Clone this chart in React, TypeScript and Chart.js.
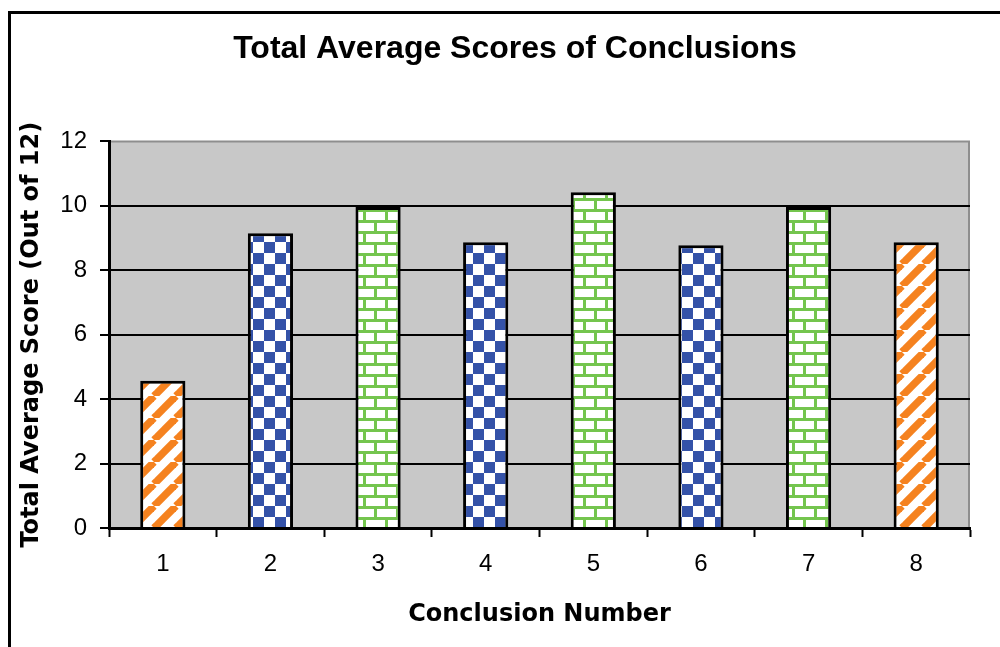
import { useEffect, useRef } from "react";
import { Chart, registerables } from "chart.js";

Chart.register(...registerables);

const categories = ["1", "2", "3", "4", "5", "6", "7", "8"];
const scores = [4.57, 9.15, 9.96, 8.87, 10.42, 8.78, 9.96, 8.87];
const patternKinds = ["stripe", "check", "brick", "check", "brick", "check", "brick", "stripe"];
const yMin = 0;
const yMax = 12;
const yStep = 2;

const chartTitle = "Total Average Scores of Conclusions";
const xTitle = "Conclusion Number";
const yTitle = "Total Average Score (Out of 12)";

const SANS = "'Liberation Sans', Arial, sans-serif";
const WIDE = "'DejaVu Sans', Verdana, sans-serif";

function makePattern(kind: string): CanvasPattern | string {
  const s = 22;
  const c = document.createElement("canvas");
  c.width = s;
  c.height = s;
  const g = c.getContext("2d");
  if (!g) return "#fff";
  g.fillStyle = "#ffffff";
  g.fillRect(0, 0, s, s);
  if (kind === "stripe") {
    g.strokeStyle = "#F5821F";
    g.lineWidth = 7.5;
    for (const o of [-s, 0, s]) {
      g.beginPath();
      g.moveTo(o, s);
      g.lineTo(o + s, 0);
      g.stroke();
    }
  } else if (kind === "check") {
    g.fillStyle = "#3452A8";
    g.fillRect(0, 0, 11, 11);
    g.fillRect(11, 11, 11, 11);
  } else {
    g.fillStyle = "#74C54E";
    g.fillRect(0, 0, s, 3);
    g.fillRect(0, 11, s, 3);
    g.fillRect(0, 0, 3, 11);
    g.fillRect(11, 11, 3, 11);
  }
  const p = g.createPattern(c, "repeat");
  return p || "#fff";
}

const framePlugin = {
  id: "frame",
  beforeDraw(chart: any) {
    const { ctx, chartArea: a } = chart;
    ctx.save();
    ctx.fillStyle = "#ffffff";
    ctx.fillRect(0, 0, chart.width, chart.height);
    ctx.strokeStyle = "#000000";
    ctx.lineWidth = 3;
    ctx.strokeRect(9.5, 12.5, 1200, 1200);
    ctx.fillStyle = "#C8C8C8";
    ctx.fillRect(a.left, a.top, a.right - a.left, a.bottom - a.top);
    ctx.strokeStyle = "#8E8E8E";
    ctx.lineWidth = 2;
    ctx.beginPath();
    ctx.moveTo(a.left, a.top);
    ctx.lineTo(a.right - 1, a.top);
    ctx.lineTo(a.right - 1, a.bottom);
    ctx.stroke();
    ctx.restore();
  },
};

export default function App() {
  const ref = useRef<HTMLCanvasElement | null>(null);

  useEffect(() => {
    document.body.style.margin = "0";
    document.body.style.overflow = "hidden";
    const canvas = ref.current;
    if (!canvas) return;
    const chart = new Chart(canvas, {
      type: "bar",
      data: {
        labels: categories,
        datasets: [
          {
            data: scores,
            backgroundColor: patternKinds.map((k) => makePattern(k)) as any,
            borderColor: "#000000",
            borderWidth: 3,
            categoryPercentage: 1,
            barPercentage: 0.42,
          },
        ],
      },
      options: {
        animation: false,
        responsive: false,
        devicePixelRatio: 1,
        layout: { padding: { left: 60, right: 30, top: 0, bottom: 0 } },
        plugins: {
          legend: { display: false },
          tooltip: { enabled: false },
          title: {
            display: true,
            text: chartTitle,
            color: "#000000",
            font: { family: SANS, size: 32, weight: "bold" },
            padding: { top: 30, bottom: 73 },
          },
        },
        scales: {
          x: {
            grid: {
              offset: true,
              drawOnChartArea: false,
              drawTicks: true,
              tickLength: 9,
              tickColor: "#000000",
              tickWidth: 2,
            },
            border: { color: "#000000", width: 3 },
            ticks: { color: "#000000", font: { family: SANS, size: 24 }, padding: 13 },
            title: {
              display: true,
              text: xTitle,
              color: "#000000",
              font: { family: WIDE, size: 24, weight: "bold" },
              padding: { top: 0, bottom: 18 },
            },
            afterFit: (s: any) => {
              s.height = 119;
            },
          },
          y: {
            min: yMin,
            max: yMax,
            ticks: {
              stepSize: yStep,
              color: "#000000",
              font: { family: SANS, size: 24 },
              padding: 13,
            },
            grid: {
              color: (c: any) => (c.tick && c.tick.value === yMax ? "rgba(0,0,0,0)" : "#000000"),
              lineWidth: 2,
              drawTicks: true,
              tickLength: 9,
              tickColor: "#000000",
              tickWidth: 2,
            },
            border: { color: "#000000", width: 3 },
            title: {
              display: true,
              text: yTitle,
              color: "#000000",
              font: { family: WIDE, size: 24, weight: "bold" },
              padding: { top: -43, bottom: 0 },
            },
            afterFit: (s: any) => {
              s.width = 49;
            },
          },
        },
      },
      plugins: [framePlugin],
    });
    return () => chart.destroy();
  }, []);

  return (
    <div style={{ position: "fixed", left: 0, top: 0, width: 1000, height: 647 }}>
      <canvas ref={ref} width={1000} height={647} style={{ display: "block", width: 1000, height: 647 }} />
    </div>
  );
}
